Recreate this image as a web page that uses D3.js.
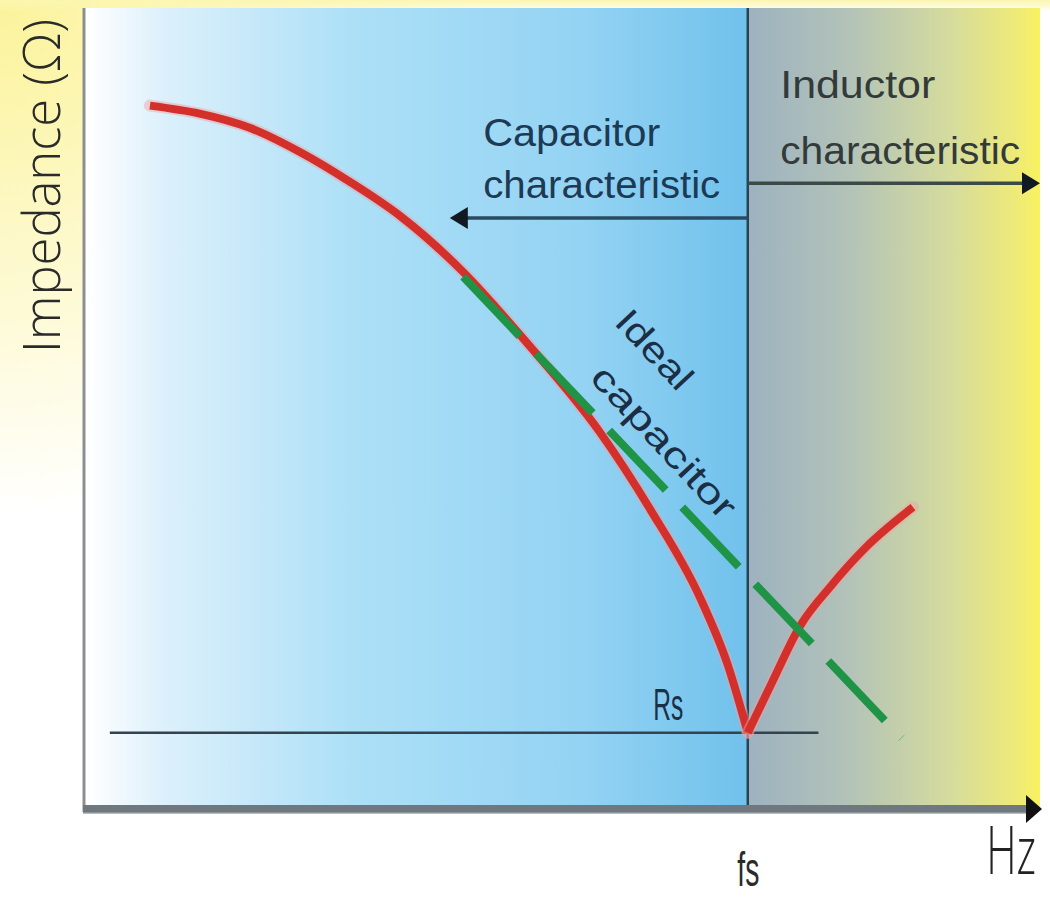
<!DOCTYPE html>
<html>
<head>
<meta charset="utf-8">
<script src="https://cdn.jsdelivr.net/npm/d3@7"></script>
<style>
  html, body { margin: 0; padding: 0; background: #ffffff; }
  svg { display: block; }
</style>
</head>
<body>
<svg id="chart" width="1050" height="901"></svg>
<script>
// ---- Data (arbitrary units) ----
const fs = 6.94;            // resonance frequency (x units)
const rs = 0.94;            // series resistance level (y units)

// Real capacitor impedance, capacitive branch (below fs)
const capacitorX = [0.68, 1.20, 1.73, 2.25, 2.77, 3.30, 3.96, 4.63, 5.39, 5.92, 6.44, 6.73, 6.94];
const capacitorZ = [8.78, 8.68, 8.50, 8.20, 7.83, 7.40, 6.70, 5.81, 4.70, 3.73, 2.63, 1.79, 0.94];

// Inductive branch (above fs)
const inductorX = [6.94, 7.19, 7.49, 7.80, 8.17, 8.67];
const inductorZ = [0.94, 1.56, 2.28, 2.76, 3.25, 3.76];

// Ideal capacitor (straight dashed line)
const idealX = [3.96, 8.55];
const idealZ = [6.64, 0.875];

// Rs reference line extent
const rsLineX = [0.26, 7.68];

// Region arrows
const capArrow = { x0: fs, x1: 3.82, z: 7.375 };
const indArrow = { x0: fs, x1: 10.0, z: 7.81 };

// Texts
const yAxisTitle = "Impedance (Ω)";
const xAxisTitle = "Hz";
const xTickLabels = ["fs"];
const capacitorLabel = ["Capacitor", "characteristic"];
const inductorLabel = ["Inductor", "characteristic"];
const idealLabel = ["Ideal", "capacitor"];
const rsLabel = "Rs";

// ---- Scales ----
const svg = d3.select("#chart");
const x = d3.scaleLinear().domain([0, 10]).range([85, 1040]);
const y = d3.scaleLinear().domain([0, 10]).range([808, 8]);

const defs = svg.append("defs");

// outer yellow glow
const rg = defs.append("radialGradient").attr("id", "glow")
  .attr("cx", 0).attr("cy", 0).attr("r", 520).attr("gradientUnits", "userSpaceOnUse");
rg.append("stop").attr("offset", 0).attr("stop-color", "#fbf39a").attr("stop-opacity", 1);
rg.append("stop").attr("offset", 1).attr("stop-color", "#fbf39a").attr("stop-opacity", 0);

const tg = defs.append("linearGradient").attr("id", "topband")
  .attr("x1", 0).attr("x2", 0).attr("y1", 0).attr("y2", 1);
tg.append("stop").attr("offset", 0).attr("stop-color", "#fbf6b0").attr("stop-opacity", 1);
tg.append("stop").attr("offset", 1).attr("stop-color", "#fbf6b0").attr("stop-opacity", 0.2);

// left (capacitive) region gradient
const lg = defs.append("linearGradient").attr("id", "leftGrad")
  .attr("x1", 0).attr("x2", 1).attr("y1", 0).attr("y2", 0);
[[0, "#ffffff"], [0.12, "#dcf0fb"], [0.4, "#ade0f7"], [0.75, "#94d3f3"], [1, "#70c1ec"]]
  .forEach(([o, c]) => lg.append("stop").attr("offset", o).attr("stop-color", c));

// right (inductive) region gradient
const rgr = defs.append("linearGradient").attr("id", "rightGrad")
  .attr("x1", 0).attr("x2", 1).attr("y1", 0).attr("y2", 0);
[[0, "#9db2c0"], [0.35, "#b3c3b8"], [0.7, "#d6dc9c"], [0.92, "#eeea78"], [1, "#f8f25e"]]
  .forEach(([o, c]) => rgr.append("stop").attr("offset", o).attr("stop-color", c));

// Background
svg.append("rect").attr("width", 1050).attr("height", 901).attr("fill", "#ffffff");
svg.append("rect").attr("width", 1050).attr("height", 901).attr("fill", "url(#glow)");
svg.append("rect").attr("width", 1050).attr("height", 10).attr("fill", "url(#topband)");

// Plot regions
svg.append("rect")
  .attr("x", x(0)).attr("y", y(10))
  .attr("width", x(fs) - x(0)).attr("height", y(0) - y(10))
  .attr("fill", "url(#leftGrad)");
svg.append("rect")
  .attr("x", x(fs)).attr("y", y(10))
  .attr("width", x(10) - x(fs)).attr("height", y(0) - y(10))
  .attr("fill", "url(#rightGrad)");

// Left axis line
svg.append("line")
  .attr("x1", x(0) - 1).attr("x2", x(0) - 1)
  .attr("y1", y(10)).attr("y2", y(0) + 4)
  .attr("stroke", "#8c8f92").attr("stroke-width", 3);

// fs vertical line
svg.append("line")
  .attr("x1", x(fs)).attr("x2", x(fs))
  .attr("y1", y(10)).attr("y2", y(0))
  .attr("stroke", "#2b4255").attr("stroke-width", 2.5);

// Bottom axis (thick grey bar) with arrow
svg.append("line")
  .attr("x1", x(0) - 2).attr("x2", x(10) - 10)
  .attr("y1", y(0) + 1).attr("y2", y(0) + 1)
  .attr("stroke", "#6f787e").attr("stroke-width", 8);
svg.append("line")
  .attr("x1", x(0) - 2).attr("x2", x(10) - 10)
  .attr("y1", y(0) + 5).attr("y2", y(0) + 5)
  .attr("stroke", "#9aa0a4").attr("stroke-width", 2).attr("opacity", 0.7);
svg.append("path")
  .attr("d", d3.line()([[x(10) - 14, y(0) - 13], [x(10) + 2, y(0) + 1], [x(10) - 14, y(0) + 15]]) + "Z")
  .attr("fill", "#111");

// x axis tick label via d3 axis
const xAxis = d3.axisBottom(x).tickValues([fs]).tickFormat((d, i) => xTickLabels[i])
  .tickSize(0).tickPadding(0);
const gx = svg.append("g").attr("transform", `translate(0,${y(0) + 78})`).call(xAxis);
gx.select(".domain").remove();
gx.selectAll("text")
  .attr("dy", 0)
  .attr("font-family", "Liberation Sans, Arial, sans-serif")
  .attr("font-size", 48).attr("fill", "#2a2a2a")
  .attr("textLength", 22).attr("lengthAdjust", "spacingAndGlyphs");

// Axis titles
svg.append("text")
  .attr("transform", "translate(60,186) rotate(-90)")
  .attr("text-anchor", "middle")
  .attr("font-family", "Open Sans, DejaVu Sans, sans-serif")
  .attr("font-weight", 300)
  .attr("font-size", 52).attr("fill", "#2a2a2a")
  .attr("textLength", 334).attr("lengthAdjust", "spacingAndGlyphs")
  .text(yAxisTitle);
svg.append("text")
  .attr("transform", "translate(1036,874) scale(0.64,1)")
  .attr("text-anchor", "end")
  .attr("font-family", "Open Sans, DejaVu Sans, sans-serif")
  .attr("font-weight", 300)
  .attr("font-size", 66).attr("fill", "#222")
  .text(xAxisTitle);

// Rs line
svg.append("line")
  .attr("x1", x(rsLineX[0])).attr("x2", x(rsLineX[1]))
  .attr("y1", y(rs)).attr("y2", y(rs))
  .attr("stroke", "#34434e").attr("stroke-width", 2.5);
svg.append("text")
  .attr("x", x(5.95)).attr("y", y(1.10))
  .attr("font-family", "Liberation Sans, Arial, sans-serif")
  .attr("font-size", 44).attr("fill", "#1c3045")
  .attr("textLength", 30).attr("lengthAdjust", "spacingAndGlyphs")
  .text(rsLabel);

// Curves
const line = d3.line().x(d => x(d[0])).y(d => y(d[1])).curve(d3.curveMonotoneX);
const capData = capacitorX.map((v, i) => [v, capacitorZ[i]]);
const indData = inductorX.map((v, i) => [v, inductorZ[i]]);

[capData, indData].forEach(dat => {
  svg.append("path").datum(dat).attr("d", line)
    .attr("fill", "none").attr("stroke", "#f0a0a0").attr("stroke-width", 12)
    .attr("stroke-linecap", "round").attr("opacity", 0.45);
  svg.append("path").datum(dat).attr("d", line)
    .attr("fill", "none").attr("stroke", "#d3302c").attr("stroke-width", 8)
    .attr("stroke-linecap", "butt").attr("stroke-linejoin", "round");
});

// Ideal capacitor dashed line
const idealData = idealX.map((v, i) => [v, idealZ[i]]);
svg.append("path").datum(idealData)
  .attr("d", d3.line().x(d => x(d[0])).y(d => y(d[1])))
  .attr("fill", "none").attr("stroke", "#1f9447").attr("stroke-width", 8)
  .attr("stroke-dasharray", "82,24");

// Region arrows
function arrow(a, color) {
  const x0 = x(a.x0), x1 = x(a.x1), yy = y(a.z);
  const dir = x1 > x0 ? 1 : -1;
  svg.append("line")
    .attr("x1", x0).attr("x2", x1 - dir * 12)
    .attr("y1", yy).attr("y2", yy)
    .attr("stroke", color).attr("stroke-width", 3.5);
  svg.append("path")
    .attr("d", d3.line()([[x1 - dir * 18, yy - 11], [x1, yy], [x1 - dir * 18, yy + 11]]) + "Z")
    .attr("fill", "#111a22");
}
arrow(capArrow, "#2a4a60");
arrow(indArrow, "#3b4a46");

// Region labels
function label(lines, xv, zs, lens, color) {
  lines.forEach((t, i) => {
    svg.append("text")
      .attr("x", x(xv)).attr("y", y(zs[i]))
      .attr("font-family", "Liberation Sans, Arial, sans-serif")
      .attr("font-size", 38).attr("fill", color)
      .attr("textLength", lens[i]).attr("lengthAdjust", "spacingAndGlyphs")
      .text(t);
  });
}
label(capacitorLabel, 4.17, [8.27, 7.63], [177, 237], "#1d3a55");
label(inductorLabel, 7.28, [8.87, 8.05], [155, 240], "#333a3a");

// Ideal capacitor label (rotated)
const ig = svg.append("g").attr("transform", `translate(${x(5.53)},${y(6.06)}) rotate(47)`);
ig.append("text").attr("x", 0).attr("y", 0)
  .attr("font-family", "Liberation Sans, Arial, sans-serif")
  .attr("font-size", 36).attr("fill", "#1b2e44")
  .attr("textLength", 95).attr("lengthAdjust", "spacingAndGlyphs")
  .text(idealLabel[0]);
ig.append("text").attr("x", 24).attr("y", 56)
  .attr("font-family", "Liberation Sans, Arial, sans-serif")
  .attr("font-size", 36).attr("fill", "#1b2e44")
  .attr("textLength", 195).attr("lengthAdjust", "spacingAndGlyphs")
  .text(idealLabel[1]);
</script>
</body>
</html>
